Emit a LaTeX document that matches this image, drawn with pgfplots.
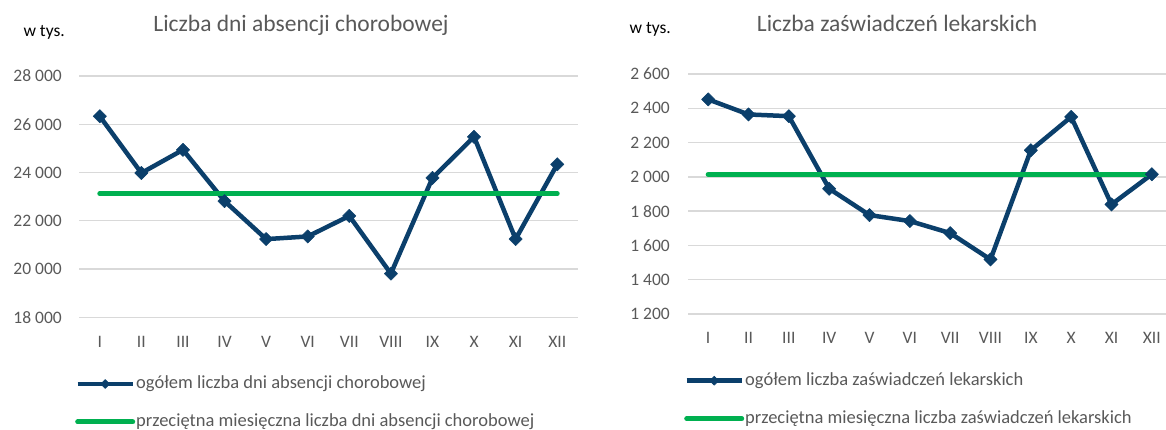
\documentclass[border=0pt]{standalone}
\usepackage{fontspec}
\setmainfont{Carlito}
\usepackage{pgfplots}
\pgfplotsset{compat=1.18}

\definecolor{navy}{HTML}{0B3F6B}
\definecolor{avggreen}{HTML}{00B050}
\definecolor{gridgray}{HTML}{D9D9D9}
\definecolor{txtgray}{HTML}{595959}

\pgfplotsset{
  monthly/.style={
    scale only axis,
    xmin=0.5, xmax=12.5,
    xtick={1,...,12},
    xticklabels={I,II,III,IV,V,VI,VII,VIII,IX,X,XI,XII},
    scaled y ticks=false,
    ymajorgrids,
    major grid style={gridgray, line width=1.4pt},
    axis line style={draw=none},
    major tick length=0pt,
    clip=false,
    tick label style={font=\fontsize{17.5}{20}\selectfont, text=txtgray, inner sep=0pt},
    xticklabel style={anchor=base, yshift=-30pt},
    yticklabel style={anchor=east, xshift=-17pt},
    legend style={draw=none, fill=none, at={(0,0)}, anchor=north west,
      xshift=-7pt, yshift=-56pt,
      font=\fontsize{18.5}{22}\selectfont, text=txtgray,
      cells={anchor=west}, row sep=21pt,
      /tikz/every odd column/.append style={column sep=1pt},
      nodes={inner xsep=0pt, inner ysep=0pt, text height=13pt, text depth=4pt}},
    legend image code/.code={
      \draw[mark repeat=2, mark phase=2, #1, mark size=3.2pt]
        plot coordinates {(0pt,0pt) (27.5pt,0pt) (55pt,0pt)};
    },
    every axis title/.style={anchor=base,
      font=\fontsize{23.5}{27}\selectfont, text=txtgray},
  },
  total/.style={navy, line width=4.5pt, line join=round,
    mark=square*, mark size=4.7pt, mark options={rotate=45, line width=0.5pt, solid}},
  average/.style={avggreen, line width=5pt, line cap=round, no markers},
}

\begin{document}
\begin{tikzpicture}
\useasboundingbox (0pt,0pt) rectangle (1166pt,430pt);

% dni absencji chorobowej (w tys.)
\begin{axis}[monthly,
    at={(79pt,112.7pt)}, anchor=south west,
    width=499pt, height=241.3pt,
    ymin=18000, ymax=28000,
    ytick={18000,20000,22000,24000,26000,28000},
    yticklabels={18 000,20 000,22 000,24 000,26 000,28 000},
    title={Liczba dni absencji chorobowej},
    title style={at={(0.445,1)}, yshift=44.3pt},
  ]
  \addplot[total] coordinates {
    (1,26330) (2,23980) (3,24940) (4,22815) (5,21240) (6,21350)
    (7,22200) (8,19810) (9,23775) (10,25480) (11,21240) (12,24340)
  };
  \addlegendentry{ogółem liczba dni absencji chorobowej}
  \addplot[average] coordinates {(1,23124) (12,23124)};
  \addlegendentry{przeciętna miesięczna liczba dni absencji chorobowej}
  \node[anchor=base west, xshift=-59pt, yshift=39pt,
    font=\fontsize{17.5}{20}\selectfont] at (rel axis cs:0,1) {w tys.};
\end{axis}

% zaswiadczenia lekarskie (w tys.)
\begin{axis}[monthly,
    at={(688pt,116pt)}, anchor=south west,
    width=484pt, height=240pt,
    ymin=1200, ymax=2600,
    ytick={1200,1400,1600,1800,2000,2200,2400,2600},
    yticklabels={1 200,1 400,1 600,1 800,2 000,2 200,2 400,2 600},
    yticklabel style={xshift=-1pt},
    title={Liczba zaświadczeń lekarskich},
    title style={at={(0.432,1)}, yshift=42.3pt},
  ]
  \addplot[total] coordinates {
    (1,2452) (2,2364) (3,2354) (4,1931) (5,1777) (6,1742)
    (7,1672) (8,1518) (9,2155) (10,2350) (11,1839) (12,2015)
  };
  \addlegendentry{ogółem liczba zaświadczeń lekarskich}
  \addplot[average] coordinates {(1,2014) (12,2014)};
  \addlegendentry{przeciętna miesięczna liczba zaświadczeń lekarskich}
  \node[anchor=base west, xshift=-62pt, yshift=40pt,
    font=\fontsize{17.5}{20}\selectfont] at (rel axis cs:0,1) {w tys.};
\end{axis}
\end{tikzpicture}
\end{document}
